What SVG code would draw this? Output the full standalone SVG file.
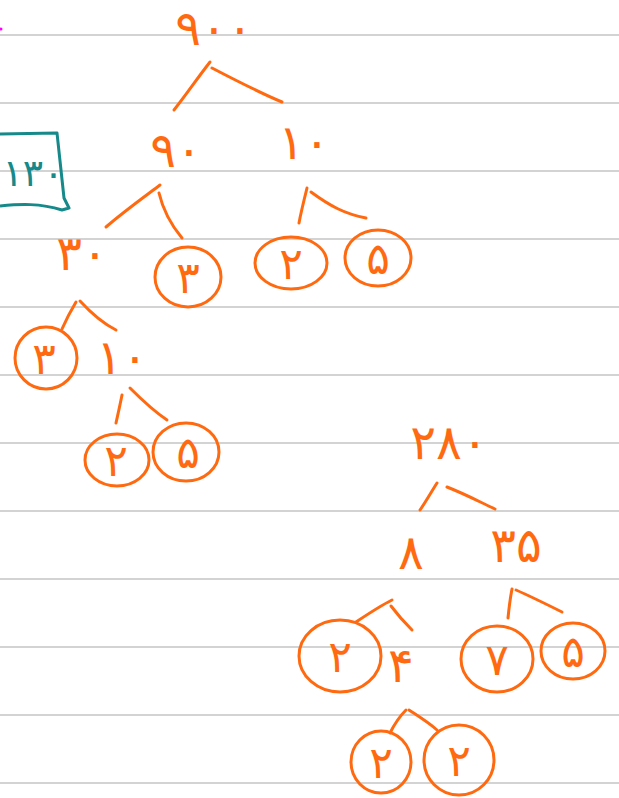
<svg xmlns="http://www.w3.org/2000/svg" width="619" height="798" viewBox="0 0 619 798">
<style>
.rule{stroke:#c4c4c4;stroke-width:1.3}
.ln{fill:none;stroke:#ff6a10;stroke-width:3;stroke-linecap:round;stroke-linejoin:round}
.d{font-family:"DejaVu Sans",sans-serif;font-size:48px;fill:#ff6a10;text-anchor:middle}
.c{font-family:"DejaVu Sans",sans-serif;font-size:44px;fill:#ff6a10;text-anchor:middle}
.t{font-family:"DejaVu Sans",sans-serif;font-size:38px;fill:#16898a;text-anchor:middle}
</style>
<rect width="619" height="798" fill="#ffffff"/>
<g id="rules">
<line class="rule" x1="0" y1="35" x2="619" y2="35"/>
<line class="rule" x1="0" y1="103" x2="619" y2="103"/>
<line class="rule" x1="0" y1="171" x2="619" y2="171"/>
<line class="rule" x1="0" y1="239" x2="619" y2="239"/>
<line class="rule" x1="0" y1="307" x2="619" y2="307"/>
<line class="rule" x1="0" y1="375" x2="619" y2="375"/>
<line class="rule" x1="0" y1="443" x2="619" y2="443"/>
<line class="rule" x1="0" y1="511" x2="619" y2="511"/>
<line class="rule" x1="0" y1="579" x2="619" y2="579"/>
<line class="rule" x1="0" y1="647" x2="619" y2="647"/>
<line class="rule" x1="0" y1="715" x2="619" y2="715"/>
<line class="rule" x1="0" y1="783" x2="619" y2="783"/>
</g>
<circle cx="1" cy="29" r="1.5" fill="#ff00ff"/>
<g id="note">
<path d="M0,134 L57,133 L64,198 L69,208 L62,210 C40,203 20,204 0,206" fill="none" stroke="#16898a" stroke-width="3" stroke-linejoin="round"/>
<text class="t" x="33" y="186" letter-spacing="-6">۱۳۰</text>
</g>
<g id="connectors">
<path class="ln" d="M210,62 C196,80 186,95 174,110"/>
<path class="ln" d="M212,68 C235,80 258,92 282,102"/>
<path class="ln" d="M160,185 C140,200 122,213 106,227"/>
<path class="ln" d="M159,193 C163,210 172,226 182,238"/>
<path class="ln" d="M307,188 C304,200 301,212 299,223"/>
<path class="ln" d="M311,192 C330,206 345,214 366,218"/>
<path class="ln" d="M76,302 C70,312 66,320 62,329"/>
<path class="ln" d="M80,301 C92,314 104,324 116,330"/>
<path class="ln" d="M122,395 C120,405 118,414 116,423"/>
<path class="ln" d="M130,388 C142,400 155,412 167,420"/>
<path class="ln" d="M437,483 C430,494 425,503 420,510"/>
<path class="ln" d="M447,487 C465,494 480,502 495,509"/>
<path class="ln" d="M356,622 C368,614 380,606 392,600"/>
<path class="ln" d="M391,606 C397,614 404,622 412,630"/>
<path class="ln" d="M512,589 C510,599 509,608 508,618"/>
<path class="ln" d="M516,590 C532,597 546,604 562,612"/>
<path class="ln" d="M390,733 C394,725 400,716 406,710"/>
<path class="ln" d="M409,710 C418,716 428,722 437,730"/>
</g>
<g id="n900"><text class="d" x="214" y="45" font-size="44" letter-spacing="-4">۹۰۰</text></g>
<g id="n90"><text class="d" x="176" y="167" letter-spacing="-4">۹۰</text></g>
<g id="n10a"><text class="d" x="304" y="159">۱۰</text></g>
<g id="n30"><text class="d" x="82" y="270" letter-spacing="-4">۳۰</text></g>
<g id="c3a"><ellipse class="ln" cx="188" cy="277" rx="33" ry="30"/><text class="c" x="188" y="293">۳</text></g>
<g id="c2a"><ellipse class="ln" cx="291" cy="263" rx="36" ry="26"/><text class="c" x="291" y="279">۲</text></g>
<g id="c5a"><ellipse class="ln" cx="378" cy="258" rx="33" ry="28"/><text class="c" x="378" y="274">۵</text></g>
<g id="c3b"><ellipse class="ln" cx="46" cy="358" rx="31" ry="31"/><text class="c" x="44" y="374">۳</text></g>
<g id="n10b"><text class="d" x="122" y="374">۱۰</text></g>
<g id="c2b"><ellipse class="ln" cx="117" cy="460" rx="32" ry="26"/><text class="c" x="116" y="476">۲</text></g>
<g id="c5b"><ellipse class="ln" cx="186" cy="452" rx="33" ry="29"/><text class="c" x="188" y="468">۵</text></g>
<g id="n280"><text class="d" x="449" y="459" letter-spacing="-5">۲۸۰</text></g>
<g id="n8"><text class="d" x="411" y="569">۸</text></g>
<g id="n35"><text class="d" x="516" y="562" letter-spacing="-4">۳۵</text></g>
<g id="c2c"><ellipse class="ln" cx="340" cy="656" rx="41" ry="36"/><text class="c" x="340" y="672">۲</text></g>
<g id="n4"><text class="d" x="401" y="682">۴</text></g>
<g id="c7"><ellipse class="ln" cx="497" cy="659" rx="36" ry="33"/><text class="c" x="497" y="675">۷</text></g>
<g id="c5c"><ellipse class="ln" cx="573" cy="651" rx="32" ry="28"/><text class="c" x="573" y="667">۵</text></g>
<g id="c2d"><ellipse class="ln" cx="381" cy="762" rx="30" ry="31"/><text class="c" x="381" y="778">۲</text></g>
<g id="c2e"><ellipse class="ln" cx="459" cy="760" rx="35" ry="35"/><text class="c" x="459" y="776">۲</text></g>
</svg>
